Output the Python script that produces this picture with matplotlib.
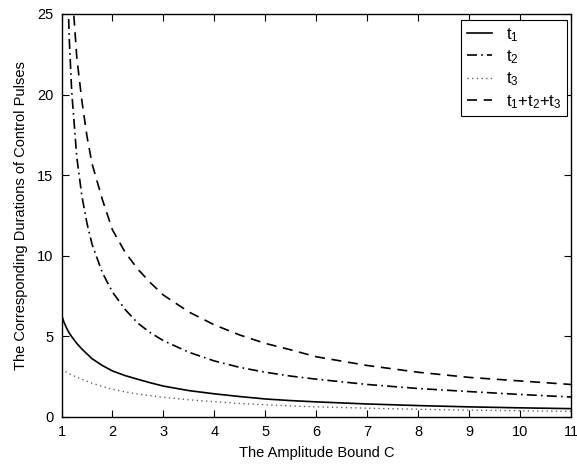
import matplotlib
matplotlib.use("Agg")
import matplotlib.pyplot as plt
import numpy as np

plt.rcParams["font.family"] = ["Liberation Sans", "DejaVu Sans"]
plt.rcParams["mathtext.fontset"] = "custom"
plt.rcParams["mathtext.rm"] = "Liberation Sans"
plt.rcParams["mathtext.it"] = "Liberation Sans"

# amplitude bound C
c = [1.0, 1.05, 1.1, 1.15, 1.2, 1.3, 1.4, 1.5, 1.6, 1.8, 2.0, 2.25, 2.5, 2.75,
     3.0, 3.5, 4.0, 4.5, 5.0, 5.5, 6.0, 7.0, 8.0, 9.0, 10.0, 11.0]

# pulse durations
t1 = [6.32, 5.85, 5.5, 5.2, 4.97, 4.55, 4.2, 3.9, 3.6, 3.18, 2.84, 2.55, 2.32,
      2.1, 1.9, 1.62, 1.42, 1.25, 1.1, 1.0, 0.92, 0.79, 0.69, 0.61, 0.55, 0.5]
t2 = [np.nan, np.nan, 29.2, 23.6, 20.2, 16.1, 13.7, 12.0, 10.7, 8.95, 7.74,
      6.65, 5.8, 5.2, 4.72, 4.0, 3.46, 3.06, 2.76, 2.52, 2.33, 2.0, 1.75, 1.56,
      1.38, 1.22]
t3 = [2.95, 2.85, 2.76, 2.68, 2.6, 2.45, 2.32, 2.2, 2.08, 1.88, 1.7, 1.54, 1.41,
      1.3, 1.2, 1.05, 0.93, 0.82, 0.74, 0.67, 0.61, 0.53, 0.46, 0.41, 0.37, 0.33]
total = [np.nan, np.nan, np.nan, 30.5, 26.8, 22.3, 19.6, 17.4, 15.7, 13.5, 11.6,
         10.2, 9.15, 8.3, 7.55, 6.5, 5.7, 5.07, 4.55, 4.15, 3.72, 3.18, 2.76,
         2.44, 2.22, 2.0]

fig = plt.figure(figsize=(5.77, 4.66), dpi=100)
ax = fig.add_axes([0.1066, 0.1058, 0.8830, 0.8642])

lw = 1.2
ax.plot(c, t1, color="k", lw=lw, ls="-", label=r"t$_1$")
ax.plot(c, t2, color="k", lw=lw, ls=(0, (6, 2.5, 1, 2.5)), label=r"t$_2$")
ax.plot(c, t3, color="0.35", lw=lw * 0.8, ls=(0, (1, 2.5)), label=r"t$_3$")
ax.plot(c, total, color="k", lw=lw, ls=(0, (6, 4)),
        label=r"t$_1$+t$_2$+t$_3$")

ax.set_xlim(1, 11)
ax.set_ylim(0, 25)
ax.set_xticks(np.arange(1, 12, 1))
ax.set_yticks(np.arange(0, 26, 5))
ax.tick_params(direction="in", length=5, width=0.8, top=True, right=True,
               labelsize=10.5, pad=6)
for s in ax.spines.values():
    s.set_linewidth(1.0)

ax.set_xlabel("The Amplitude Bound C", fontsize=10.5, labelpad=5)
ax.set_ylabel("The Corresponding Durations of Control Pulses", fontsize=10.5,
              labelpad=6)

leg = ax.legend(loc="upper right", fontsize=12, handlelength=1.5,
                handletextpad=0.8, labelspacing=0.28, borderpad=0.35,
                borderaxespad=0, fancybox=False, framealpha=1, edgecolor="k",
                bbox_to_anchor=(0.992, 0.985))
leg.get_frame().set_linewidth(0.8)

fig.savefig("out.png", dpi=100)
